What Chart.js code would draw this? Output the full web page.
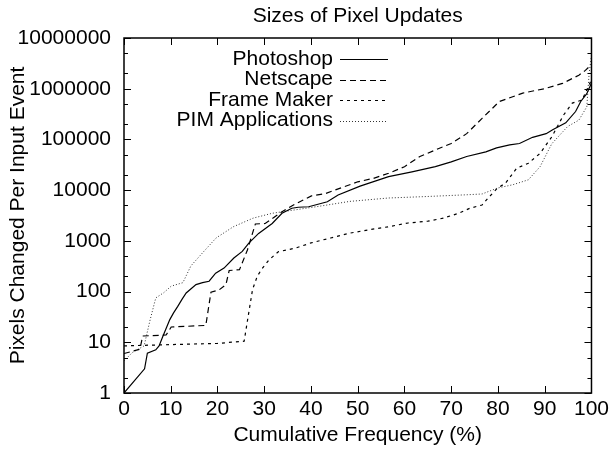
<!DOCTYPE html>
<html>
<head>
<meta charset="utf-8">
<script src="https://cdn.jsdelivr.net/npm/chart.js@4/dist/chart.umd.min.js"></script>
<style>
  html, body { margin: 0; padding: 0; background: #fff; }
  #wrap { width: 613px; height: 451px; }
</style>
</head>
<body>
<div id="wrap"><canvas id="pixel-chart" width="613" height="451"></canvas></div>
<script>
// --- data (x = cumulative %, y = pixels per event) ---
const chartTitle = 'Sizes of Pixel Updates';
const seriesNames = ['Photoshop', 'Netscape', 'Frame Maker', 'PIM Applications'];

const photoshopX = [0, 4.4, 5, 6.8, 7.5, 8.3, 9.8, 10.6, 11.5, 12.4, 13.3, 15.4, 16.8, 18.2, 19.6, 21.4, 23.5, 25.3, 26.7, 28.8, 31.7, 33.8, 35.9, 37.3, 39.5, 43.5, 45.8, 50.5, 56.6, 61.6, 66.6, 70, 73.3, 77.4, 79.7, 82.5, 84.6, 87.4, 90.3, 91.7, 94.5, 96.6, 97.7, 99, 100];
const photoshopY = [1, 3, 6.1, 7.1, 8.5, 13, 28, 38, 51, 70, 94, 137, 150, 160, 230, 290, 460, 620, 900, 1400, 2200, 3500, 4400, 4600, 4700, 5900, 8000, 12000, 18500, 23000, 29000, 36000, 46000, 57000, 68000, 78000, 83000, 110000, 130000, 155000, 213000, 355000, 560000, 800000, 1300000];

const netscapeX = [0, 3.4, 4, 9, 10.1, 17.5, 18.6, 20.4, 21.8, 22.5, 24.7, 26.4, 28.1, 30.2, 33.8, 36.6, 40.1, 43, 50, 53.3, 56.6, 60, 63.3, 66.6, 70, 73.3, 76.6, 80.3, 85.3, 89.9, 93.8, 97.3, 98.7, 100];
const netscapeY = [6, 7.3, 13.3, 13.9, 20, 21.5, 97, 109, 137, 260, 270, 660, 2150, 2200, 3750, 5300, 7700, 8500, 14600, 17000, 21500, 29000, 46000, 62000, 83000, 130000, 260000, 560000, 820000, 1000000, 1270000, 1850000, 2300000, 3000000];

const frameMakerX = [0, 10, 20, 25.7, 26.5, 27.5, 28.5, 29.5, 31, 33, 36.7, 40, 44.2, 48.3, 52.5, 56.6, 60.8, 65, 68.3, 71.6, 74, 76.6, 78.2, 79.9, 81.6, 84, 86.5, 89, 91.5, 94, 95.9, 98, 100];
const frameMakerY = [8.5, 9, 9.5, 10.5, 30, 110, 200, 280, 420, 610, 720, 910, 1140, 1420, 1660, 1900, 2250, 2450, 2800, 3500, 4400, 5100, 7500, 11000, 13700, 27000, 34000, 53000, 112000, 300000, 520000, 600000, 1500000];

const pimX = [0, 1.8, 4.3, 5.6, 6.8, 8.5, 10.1, 12.6, 14.3, 16.8, 19.7, 23.4, 27.6, 31.7, 36.7, 41.7, 48.3, 56.6, 65, 73.3, 76.6, 79.9, 83.2, 86.5, 89, 91.5, 94.9, 97.3, 99, 99.5, 100];
const pimY = [4.3, 6.3, 8.5, 28, 75, 95, 128, 150, 320, 580, 1140, 1900, 2800, 3500, 4100, 4800, 6000, 7000, 7500, 8100, 8400, 11000, 12800, 16000, 29000, 82000, 180000, 240000, 440000, 2000000, 4500000];

const xTicks = [0, 10, 20, 30, 40, 50, 60, 70, 80, 90, 100];
const yTicks = [1, 10, 100, 1000, 10000, 100000, 1000000, 10000000];
const yMinorSteps = [2, 5];

const FONT = '"Liberation Sans", Arial, Helvetica, sans-serif';
Chart.defaults.color = '#000';
Chart.defaults.font.family = FONT;

const toPoints = (xs, ys) => xs.map((x, i) => ({ x, y: ys[i] }));

// gnuplot-ish box with inward ticks on all four sides
const frameTicks = {
  id: 'frameTicks',
  afterDatasetsDraw(chart) {
    const { ctx, chartArea: a, scales: { x, y } } = chart;
    ctx.save();
    ctx.strokeStyle = '#000';
    ctx.lineWidth = 1;
    ctx.beginPath();
    xTicks.forEach(v => {
      const px = Math.round(x.getPixelForValue(v)) + 0.5;
      ctx.moveTo(px, a.bottom); ctx.lineTo(px, a.bottom - 7);
      ctx.moveTo(px, a.top); ctx.lineTo(px, a.top + 7);
    });
    yTicks.forEach((v, i) => {
      const py = Math.round(y.getPixelForValue(v)) + 0.5;
      ctx.moveTo(a.left, py); ctx.lineTo(a.left + 7, py);
      ctx.moveTo(a.right, py); ctx.lineTo(a.right - 7, py);
      if (i < yTicks.length - 1) {
        yMinorSteps.forEach(m => {
          const pm = Math.round(y.getPixelForValue(v * m)) + 0.5;
          ctx.moveTo(a.left, pm); ctx.lineTo(a.left + 4, pm);
          ctx.moveTo(a.right, pm); ctx.lineTo(a.right - 4, pm);
        });
      }
    });
    ctx.stroke();
    ctx.lineWidth = 1.5;
    ctx.strokeRect(a.left, a.top, a.right - a.left, a.bottom - a.top);
    ctx.restore();
  }
};

// title centred over the plot box, not the whole canvas
const plotTitle = {
  id: 'plotTitle',
  afterDraw(chart) {
    const { ctx, chartArea: a } = chart;
    ctx.save();
    ctx.font = '21px ' + FONT;
    ctx.fillStyle = '#000';
    ctx.textAlign = 'center';
    ctx.textBaseline = 'middle';
    ctx.fillText(chartTitle, (a.left + a.right) / 2, 16);
    ctx.restore();
  }
};

// legend inside the plot: label right-aligned, line sample on its right
const insideLegend = {
  id: 'insideLegend',
  afterDatasetsDraw(chart) {
    const { ctx, chartArea: a } = chart;
    ctx.save();
    ctx.font = '21px ' + FONT;
    ctx.fillStyle = '#000';
    ctx.textAlign = 'right';
    ctx.textBaseline = 'middle';
    chart.data.datasets.forEach((ds, i) => {
      const yy = a.top + 21 + i * 20.5;
      ctx.fillText(ds.label, a.left + 209, yy);
      ctx.beginPath();
      ctx.strokeStyle = ds.borderColor;
      ctx.lineWidth = ds.borderWidth;
      ctx.setLineDash(ds.borderDash || []);
      ctx.moveTo(a.left + 216, Math.round(yy) + 0.5);
      ctx.lineTo(a.left + 264, Math.round(yy) + 0.5);
      ctx.stroke();
    });
    ctx.restore();
  }
};

const ctx = document.getElementById('pixel-chart').getContext('2d');

const chart = new Chart(ctx, {
  type: 'scatter',
  data: {
    datasets: [
      { label: seriesNames[0], data: toPoints(photoshopX, photoshopY), borderColor: '#000', borderWidth: 1.2, borderDash: [] },
      { label: seriesNames[1], data: toPoints(netscapeX, netscapeY), borderColor: '#000', borderWidth: 1.2, borderDash: [6, 4] },
      { label: seriesNames[2], data: toPoints(frameMakerX, frameMakerY), borderColor: '#000', borderWidth: 1.2, borderDash: [3, 4] },
      { label: seriesNames[3], data: toPoints(pimX, pimY), borderColor: '#333', borderWidth: 1, borderDash: [1, 2] }
    ].map(ds => Object.assign(ds, { showLine: true, pointRadius: 0, tension: 0, fill: false }))
  },
  options: {
    responsive: false,
    animation: false,
    layout: { padding: { left: 0, right: 17, top: 38, bottom: 0 } },
    plugins: {
      legend: { display: false },
      tooltip: { enabled: false },
      title: { display: false }
    },
    scales: {
      x: {
        type: 'linear',
        min: 0,
        max: 100,
        afterBuildTicks: s => { s.ticks = xTicks.map(v => ({ value: v })); },
        ticks: { font: { size: 21 }, color: '#000', padding: 4, maxRotation: 0 },
        grid: { display: false, drawTicks: false },
        border: { display: false },
        title: { display: true, text: 'Cumulative Frequency (%)', font: { size: 21 }, color: '#000', padding: { top: 0, bottom: 3 } },
        afterFit: s => { s.height = 58; }
      },
      y: {
        type: 'logarithmic',
        min: 1,
        max: 10000000,
        afterBuildTicks: s => { s.ticks = yTicks.map(v => ({ value: v })); },
        ticks: { font: { size: 21 }, color: '#000', padding: 13, callback: v => String(v) },
        grid: { display: false, drawTicks: false },
        border: { display: false },
        title: { display: true, text: 'Pixels Changed Per Input Event', font: { size: 21 }, color: '#000', padding: { top: 6, bottom: 0 } },
        afterFit: s => { s.width = 124; }
      }
    }
  },
  plugins: [frameTicks, plotTitle, insideLegend]
});
</script>
</body>
</html>
